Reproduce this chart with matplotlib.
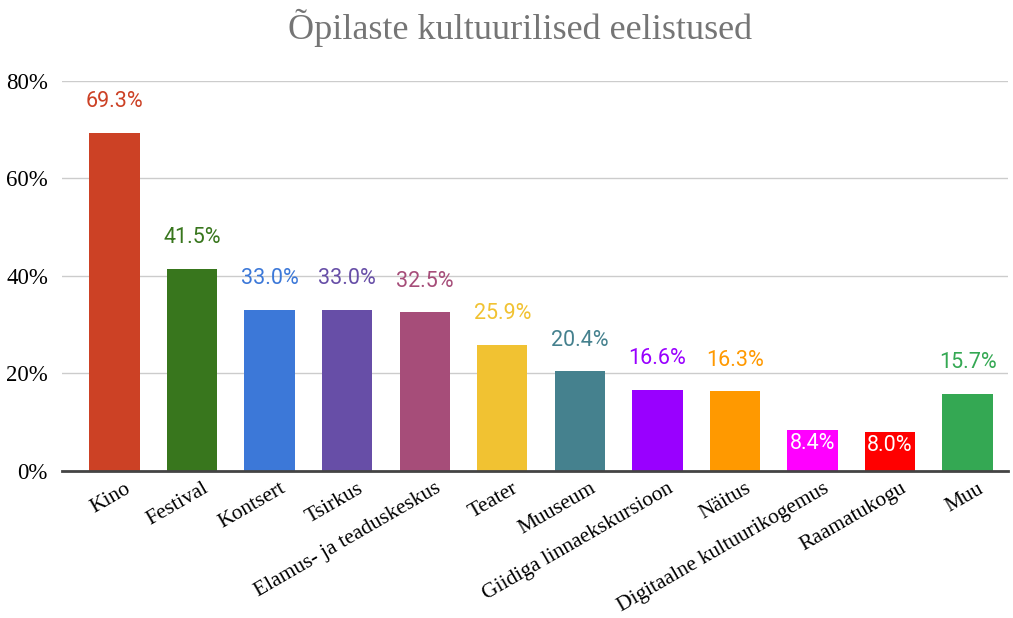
import matplotlib
matplotlib.use("Agg")
import matplotlib.pyplot as plt
from matplotlib.ticker import FuncFormatter
from matplotlib.transforms import ScaledTranslation

categories = ["Kino", "Festival", "Kontsert", "Tsirkus", "Elamus- ja teaduskeskus",
              "Teater", "Muuseum", "Giidiga linnaekskursioon", "Näitus",
              "Digitaalne kultuurikogemus", "Raamatukogu", "Muu"]
values = [69.3, 41.5, 33.0, 33.0, 32.5, 25.9, 20.4, 16.6, 16.3, 8.4, 8.0, 15.7]
colors = ["#cc4125", "#38761d", "#3c78d8", "#674ea7", "#a64d79", "#f1c232",
          "#45818e", "#9900ff", "#ff9900", "#ff00ff", "#ff0000", "#34a853"]
inside_labels = [False] * 9 + [True, True, False]
yticks = [0, 20, 40, 60, 80]

fig = plt.figure(figsize=(10.13, 6.18), dpi=100)
ax = fig.add_axes([0.061, 0.238, 0.934, 0.631])

x = list(range(len(categories)))
ax.bar(x, values, width=0.65, color=colors, zorder=3)

for xi, v, c, inside in zip(x, values, colors, inside_labels):
    if inside:
        ax.text(xi, v - 0.6, f"{v:.1f}%", ha="center", va="top", color="white",
                fontsize=15.5, family="Roboto", zorder=4)
    else:
        ax.text(xi, v + 4.3, f"{v:.1f}%", ha="center", va="bottom", color=c,
                fontsize=15.5, family="Roboto", zorder=4)

ax.set_ylim(0, 80)
ax.set_xlim(-0.68, 11.52)
ax.set_yticks(yticks)
ax.yaxis.set_major_formatter(FuncFormatter(lambda v, p: f"{int(v)}%"))
ax.grid(axis="y", color="#cccccc", linewidth=1, zorder=0)
for s in ["top", "right", "left"]:
    ax.spines[s].set_visible(False)
ax.spines["bottom"].set_color("#444444")
ax.spines["bottom"].set_linewidth(2)
ax.spines["bottom"].set_zorder(5)
ax.tick_params(axis="both", length=0)
ax.tick_params(axis="y", pad=10)
ax.tick_params(axis="x", pad=6)
ax.set_xticks(x)
ax.set_xticklabels(categories, rotation=30, ha="right", rotation_mode="anchor",
                   family="Liberation Serif", fontsize=15.5)
shift = ScaledTranslation(10 / 100, 0, fig.dpi_scale_trans)
for lab in ax.get_xticklabels():
    lab.set_transform(lab.get_transform() + shift)
for lab in ax.get_yticklabels():
    lab.set_family("Liberation Serif")
    lab.set_fontsize(16.5)

fig.text(0.513, 0.955, "Õpilaste kultuurilised eelistused", ha="center", va="center",
         family="Liberation Serif", fontsize=26, color="#757575")

fig.savefig("out.png", dpi=100)
